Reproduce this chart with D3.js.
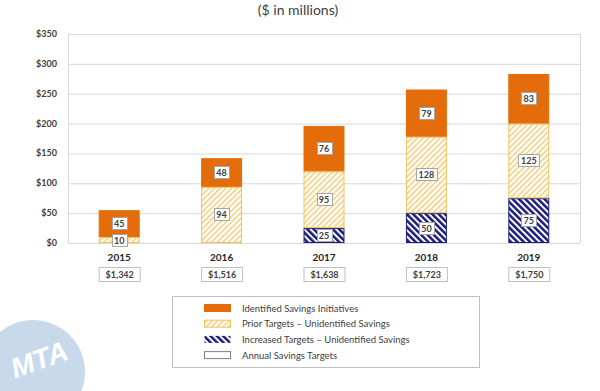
<!DOCTYPE html>
<html>
<head>
<meta charset="utf-8">
<script src="https://cdn.jsdelivr.net/npm/d3@7"></script>
<style>
  body { margin: 0; background: #fff; }
  svg { font-family: Lato, "Open Sans", sans-serif; }
  .tick-label { font-size: 9px; font-weight: bold; fill: #404040; }
  .year-label { font-size: 10px; font-weight: bold; fill: #262626; }
  .seg-label { font-size: 9px; font-weight: bold; fill: #404040; }
  .legend-text { font-size: 9.5px; fill: #404040; }
</style>
</head>
<body>
<div id="graphic"></div>
<script>
(function(d3){

    // Canvas size
    let width = 600, height = 391;

    // Chart data (values in $ millions)
    let years = ['2015', '2016', '2017', '2018', '2019'];
    let increased = [0, 0, 25, 50, 75];
    let prior = [10, 94, 95, 128, 125];
    let identified = [45, 48, 76, 79, 83];
    let annualTargets = [1342, 1516, 1638, 1723, 1750];
    let yTicks = [0, 50, 100, 150, 200, 250, 300, 350];

    let seriesKeys = ['increased', 'prior', 'identified'];
    let legendNames = [
        'Identified Savings Initiatives',
        'Prior Targets \u2013 Unidentified Savings',
        'Increased Targets \u2013 Unidentified Savings',
        'Annual Savings Targets'
    ];

    // Plot area
    let plot = { left: 68, right: 580, top: 34, bottom: 243 };

    let svg = d3.select('#graphic')
                .append('svg')
                .attr('width', width)
                .attr('height', height);

    // Hatch patterns
    let defs = svg.append('defs');
    let yellow = defs.append('pattern')
        .attr('id', 'hatch-yellow')
        .attr('patternUnits', 'userSpaceOnUse')
        .attr('width', 4).attr('height', 4)
        .attr('patternTransform', 'rotate(45)');
    yellow.append('rect').attr('width', 4).attr('height', 4).attr('fill', '#fff');
    yellow.append('rect').attr('width', 1.5).attr('height', 4).attr('fill', '#F3CB78');

    let blue = defs.append('pattern')
        .attr('id', 'hatch-blue')
        .attr('patternUnits', 'userSpaceOnUse')
        .attr('width', 4.5).attr('height', 4.5)
        .attr('patternTransform', 'rotate(-45)');
    blue.append('rect').attr('width', 4.5).attr('height', 4.5).attr('fill', '#fff');
    blue.append('rect').attr('width', 2.5).attr('height', 4.5).attr('fill', '#1B1B7A');

    let fills = { identified: '#E46C0A', prior: 'url(#hatch-yellow)', increased: 'url(#hatch-blue)' };
    let strokes = { identified: '#E46C0A', prior: '#F0C45A', increased: '#1B1B7A' };

    // MTA watermark
    let logo = svg.append('g').attr('transform', 'translate(33 372)');
    logo.append('circle').attr('r', 52).attr('fill', '#C8D9EC');
    logo.append('text')
        .attr('transform', 'rotate(-20)')
        .attr('x', 10).attr('y', 0)
        .attr('text-anchor', 'middle')
        .style('font-size', '28px')
        .style('font-weight', 'bold')
        .style('font-style', 'italic')
        .style('font-family', '"Liberation Sans", Arial, sans-serif')
        .attr('fill', '#fff')
        .text('MTA');

    // Title
    svg.append('text')
        .attr('x', 298).attr('y', 15)
        .attr('text-anchor', 'middle')
        .style('font-size', '14px')
        .attr('fill', '#404040')
        .text('($ in millions)');

    // Scales
    let x = d3.scaleBand()
        .domain(years)
        .range([plot.left, plot.right])
        .paddingInner(0.6)
        .paddingOuter(0.3);

    let y = d3.scaleLinear()
        .domain([0, 350])
        .range([plot.bottom, plot.top]);

    // Gridlines
    svg.append('g')
        .selectAll('line')
        .data(yTicks)
        .join('line')
        .attr('x1', plot.left).attr('x2', plot.right)
        .attr('y1', d => y(d) + 0.5).attr('y2', d => y(d) + 0.5)
        .attr('stroke', '#D9D9D9');

    // Plot border sides
    svg.append('line')
        .attr('x1', plot.left + 0.5).attr('x2', plot.left + 0.5)
        .attr('y1', plot.top).attr('y2', plot.bottom)
        .attr('stroke', '#D9D9D9');
    svg.append('line')
        .attr('x1', plot.right + 0.5).attr('x2', plot.right + 0.5)
        .attr('y1', plot.top).attr('y2', plot.bottom)
        .attr('stroke', '#D9D9D9');

    // Y axis labels
    svg.append('g')
        .selectAll('text')
        .data(yTicks)
        .join('text')
        .attr('class', 'tick-label')
        .attr('x', 57)
        .attr('y', d => y(d) + 3)
        .attr('text-anchor', 'end')
        .text(d => '$' + d);

    // Stack data
    let rows = years.map((yr, i) => ({
        year: yr,
        increased: increased[i],
        prior: prior[i],
        identified: identified[i]
    }));
    let stacked = d3.stack().keys(seriesKeys)(rows);

    let barG = svg.append('g');
    stacked.forEach(layer => {
        barG.append('g')
            .selectAll('rect')
            .data(layer.filter(d => d[1] > d[0]))
            .join('rect')
            .attr('x', d => x(d.data.year) + 0.5)
            .attr('y', d => y(d[1]) + 0.5)
            .attr('width', x.bandwidth() - 1)
            .attr('height', d => y(d[0]) - y(d[1]) - 1)
            .attr('fill', fills[layer.key])
            .attr('stroke', strokes[layer.key])
            .attr('stroke-width', 1);
    });

    // Segment labels
    let labelG = svg.append('g');
    stacked.forEach(layer => {
        layer.filter(d => d[1] > d[0]).forEach(d => {
            let val = d[1] - d[0];
            let cx = x(d.data.year) + x.bandwidth() / 2;
            let cy = (y(d[0]) + y(d[1])) / 2;
            let w = String(val).length > 2 ? 21 : 15;
            labelG.append('rect')
                .attr('x', Math.round(cx - w / 2) + 0.5)
                .attr('y', Math.round(cy - 6.5) + 0.5)
                .attr('width', w).attr('height', 12)
                .attr('fill', '#fff')
                .attr('stroke', '#A6A6A6');
            labelG.append('text')
                .attr('class', 'seg-label')
                .attr('x', cx).attr('y', Math.round(cy - 6.5) + 10)
                .attr('text-anchor', 'middle')
                .text(val);
        });
    });

    // Year labels
    svg.append('g')
        .selectAll('text')
        .data(years)
        .join('text')
        .attr('class', 'year-label')
        .attr('x', d => x(d) + x.bandwidth() / 2)
        .attr('y', 261)
        .attr('text-anchor', 'middle')
        .text(d => d);

    // Annual savings target boxes
    let fmt = d3.format(',');
    let targetG = svg.append('g')
        .selectAll('g')
        .data(annualTargets)
        .join('g')
        .attr('transform', (d, i) => `translate(${x(years[i])} 267)`);
    targetG.append('rect')
        .attr('x', 0.5).attr('y', 0.5)
        .attr('width', x.bandwidth()).attr('height', 14)
        .attr('fill', '#fff')
        .attr('stroke', '#BFBFBF');
    targetG.append('text')
        .attr('class', 'seg-label')
        .attr('x', x.bandwidth() / 2 + 0.5).attr('y', 11)
        .attr('text-anchor', 'middle')
        .text(d => '$' + fmt(d));

    // Legend
    let legend = svg.append('g');
    legend.append('rect')
        .attr('x', 172.5).attr('y', 296.5)
        .attr('width', 307).attr('height', 71)
        .attr('fill', '#fff')
        .attr('stroke', '#BFBFBF');

    let legendFills = [fills.identified, fills.prior, fills.increased, '#fff'];
    let legendStrokes = [strokes.identified, strokes.prior, 'none', '#7F7F7F'];
    let legendRows = d3.range(legendNames.length);
    legend.selectAll('rect.sw')
        .data(legendRows)
        .join('rect')
        .attr('class', 'sw')
        .attr('x', 204.5)
        .attr('y', i => 308.5 + i * 15.7 - 4)
        .attr('width', 26).attr('height', 7)
        .attr('fill', i => legendFills[i])
        .attr('stroke', i => legendStrokes[i]);
    legend.selectAll('text')
        .data(legendRows)
        .join('text')
        .attr('class', 'legend-text')
        .attr('x', 242)
        .attr('y', i => 308.5 + i * 15.7 + 3)
        .text(i => legendNames[i]);

})(window.d3);
</script>
</body>
</html>
